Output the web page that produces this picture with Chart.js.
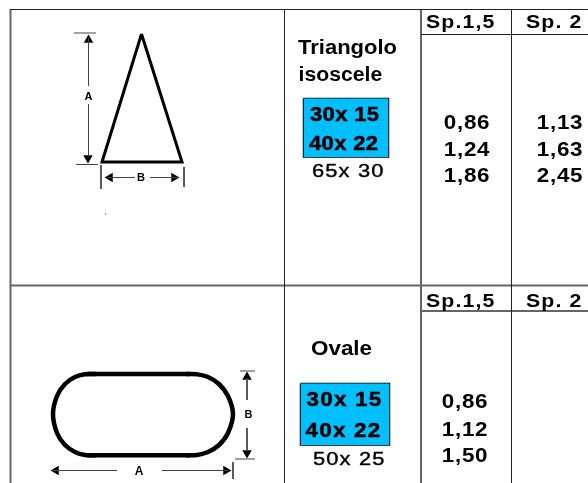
<!DOCTYPE html>
<html>
<head>
<meta charset="utf-8">
<style>
  html, body { margin: 0; padding: 0; background: #fff; }
  canvas { display: block; }
</style>
<script src="https://cdn.jsdelivr.net/npm/chart.js@4"></script>
</head>
<body>
<canvas id="chart" width="588" height="483"></canvas>
<script>
// table text
var spHeaders = ["Sp.1,5", "Sp. 2"];
var triangleSizes = ["30x 15", "40x 22", "65x 30"];
var triangleSp15 = ["0,86", "1,24", "1,86"];
var triangleSp2 = ["1,13", "1,63", "2,45"];
var ovalSizes = ["30x 15", "40x 22", "50x 25"];
var ovalSp15 = ["0,86", "1,12", "1,50"];

// table rules, in picture pixels
var darkRules = [
  [[10, 9.5], [588, 9.5]],
  [[284.5, 10], [284.5, 483]],
  [[511.5, 10], [511.5, 483]],
  [[421, 34.5], [588, 34.5]]
];
var grayRules = [
  [[10.5, 9], [10.5, 483]],
  [[421, 10], [421, 483]],
  [[10, 285.5], [588, 285.5]],
  [[421, 311], [588, 311]]
];

// the two profiles
var triangle = [[141.5, 34], [182, 162], [102, 162], [141.5, 34]];
var ovalSides = [[[87, 374], [190, 374]], [[87, 455.3], [190, 455.3]]];
var ovalRight = [[186, 374], [197, 374.3], [208, 377], [219, 384], [228, 396], [233, 414],
  [228, 433], [219, 445], [208, 452], [197, 455], [186, 455.3]];
var ovalLeft = [[96, 374], [85, 374.3], [75, 377], [65, 384], [57, 396], [53, 414],
  [57, 433], [65, 445], [75, 452], [85, 455], [96, 455.3]];

// dimension lines
var dimLines = [
  [[74, 33], [96, 33]], [[88.5, 38], [88.5, 86]], [[88.5, 104], [88.5, 155]], [[76, 164.5], [98, 164.5]],
  [[101, 165], [101, 189]], [[184, 167], [184, 187]], [[108, 177.5], [135, 177.5]], [[150, 177.5], [178, 177.5]],
  [[240, 371], [255, 371]], [[247, 378], [247, 400]], [[247, 428], [247, 450]], [[235, 459], [255, 459]],
  [[52, 470.5], [117, 470.5]], [[162, 470.5], [228, 470.5]], [[233, 462], [233, 479]]
];
var arrowHeads = [[88.5, 40], [88, 158], [110, 177.5], [174, 177.5], [247, 377], [247, 453], [56, 470.5], [226, 470.5]];
var arrowAngles = [0, 180, -90, 90, 0, 180, -90, 90];
var strayDot = [[105.5, 214]];

// blue cells: left, right, top, bottom
var blueBoxes = [[303.5, 388.5, 98.5, 157], [300.5, 389.5, 383.5, 445]];

function toPoints(list) {
  return list.map(function(p) { return { x: p[0], y: p[1] }; });
}

function lineSet(list, color, width, tension) {
  return { data: toPoints(list), showLine: true, borderColor: color, borderWidth: width, pointRadius: 0, tension: tension || 0 };
}

var datasets = [];

blueBoxes.forEach(function(b) {
  datasets.push({
    data: [{ x: b[0], y: b[2] }, { x: b[1], y: b[2] }],
    showLine: true, pointRadius: 0, borderWidth: 0,
    backgroundColor: "#00bfff", fill: { target: { value: b[3] } }
  });
  datasets.push(lineSet([[b[0], b[2]], [b[1], b[2]], [b[1], b[3]], [b[0], b[3]], [b[0], b[2]]], "#000", 1.5));
});
darkRules.forEach(function(r) { datasets.push(lineSet(r, "#222", 1)); });
grayRules.forEach(function(r) { datasets.push(lineSet(r, "#666", 2)); });
dimLines.forEach(function(r) { datasets.push(lineSet(r, "#444", 1)); });
datasets.push(lineSet(triangle, "#000", 3));
ovalSides.forEach(function(r) { datasets.push(lineSet(r, "#000", 4.5)); });
datasets.push(lineSet(ovalRight, "#000", 4.5, 0.4));
datasets.push(lineSet(ovalLeft, "#000", 4.5, 0.4));
datasets.push({
  data: toPoints(arrowHeads), showLine: false, pointStyle: "triangle", pointRadius: 5.5,
  pointRotation: arrowAngles, pointBackgroundColor: "#000", pointBorderColor: "#000", pointBorderWidth: 0
});
datasets.push({ data: toPoints(strayDot), showLine: false, pointRadius: 0.7, pointBackgroundColor: "#555", pointBorderWidth: 0 });

var tableText = {
  id: "tableText",
  afterDatasetsDraw: function(chart) {
    var ctx = chart.ctx, sx = chart.scales.x, sy = chart.scales.y;
    // the source lettering is wider than Liberation, so stretch it a little
    function put(str, x, y, font, align, spacing, wide, heavy) {
      ctx.save();
      ctx.translate(sx.getPixelForValue(x), sy.getPixelForValue(y));
      ctx.scale(wide || 1, 1);
      ctx.font = font;
      ctx.textAlign = align || "left";
      ctx.letterSpacing = spacing || "0px";
      ctx.fillText(str, 0, 0);
      if (heavy) {
        ctx.lineWidth = heavy;
        ctx.strokeText(str, 0, 0);
      }
      ctx.restore();
    }
    var face = '"Liberation Sans", Arial, sans-serif';
    var head = "bold 19px " + face, val = "bold 20px " + face, cell = "bold 20px " + face;
    var title = "bold 20px " + face, small = "bold 11px " + face, plain = "19px " + face;

    ctx.save();
    ctx.fillStyle = "#000";
    ctx.strokeStyle = "#000";
    ctx.textBaseline = "alphabetic";

    put(spHeaders[0], 426, 28, head, "left", "1px", 1.12);
    put(spHeaders[1], 526, 28, head, "left", "1px", 1.12);
    put(spHeaders[0], 426, 306.5, head, "left", "1px", 1.12);
    put(spHeaders[1], 526, 306.5, head, "left", "1px", 1.12);

    put("Triangolo", 298, 54, title, "left", "0px", 1.1);
    put("isoscele", 298.5, 81, title, "left", "0px", 1.06);
    put("Ovale", 311, 355, title, "left", "0px", 1.12);

    put(triangleSizes[0], 310, 121, cell, "left", "0.3px", 1.1, 0.5);
    put(triangleSizes[1], 309, 150, cell, "left", "0.3px", 1.1, 0.5);
    put(triangleSizes[2], 312, 176.5, plain, "left", "1px", 1.15, 0.4);
    put(ovalSizes[0], 306.5, 406, cell, "left", "1.1px", 1.12, 0.5);
    put(ovalSizes[1], 305.5, 436.5, cell, "left", "1.1px", 1.12, 0.5);
    put(ovalSizes[2], 313, 464.5, plain, "left", "1px", 1.15, 0.4);

    [129, 155.5, 182].forEach(function(y, i) {
      put(triangleSp15[i], 467, y, val, "center", "0.7px", 1.12);
      put(triangleSp2[i], 560, y, val, "center", "0.7px", 1.12);
    });
    [408, 435.5, 462].forEach(function(y, i) {
      put(ovalSp15[i], 465, y, val, "center", "0.7px", 1.12);
    });

    put("A", 88.5, 100, small, "center");
    put("B", 141, 181, small, "center");
    put("B", 248.5, 418, small, "center");
    put("A", 139, 475, "bold 12px " + face, "center");
    ctx.restore();
  }
};

var myChart = new Chart(document.getElementById("chart").getContext("2d"), {
  type: "scatter",
  data: { datasets: datasets },
  plugins: [tableText],
  options: {
    responsive: false,
    animation: false,
    layout: { padding: 0, autoPadding: false },
    plugins: { legend: { display: false }, tooltip: { enabled: false }, title: { display: false } },
    scales: {
      x: { type: "linear", min: 0, max: 588, display: false },
      y: { type: "linear", min: 0, max: 483, reverse: true, display: false }
    }
  }
});
</script>
</body>
</html>
